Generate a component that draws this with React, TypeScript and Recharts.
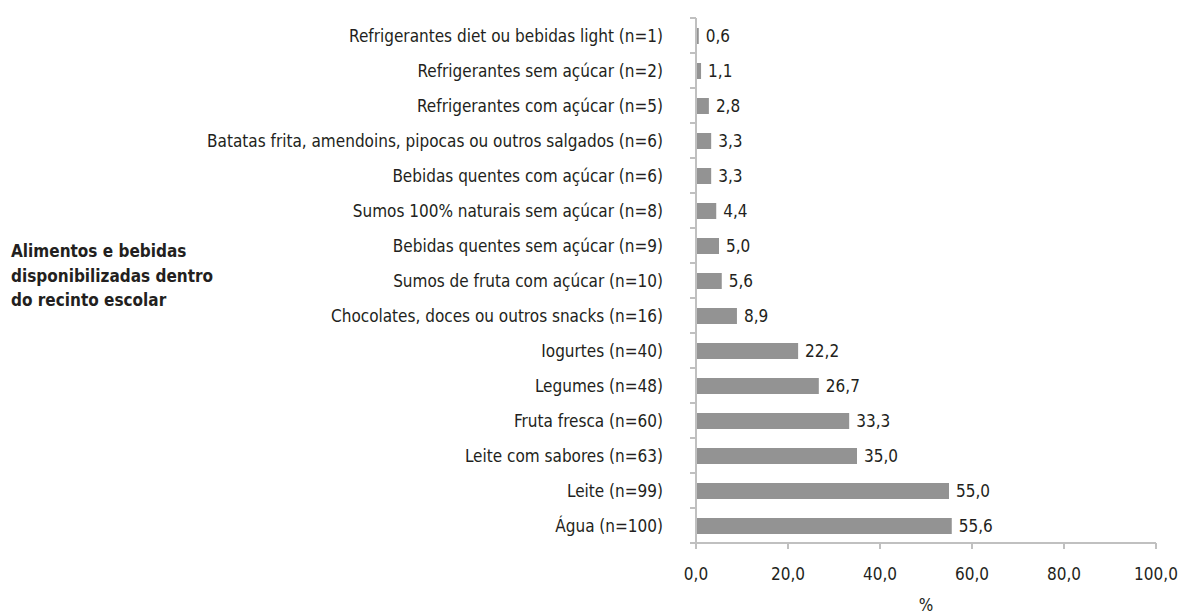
import * as React from 'react';
import { BarChart, Bar, XAxis, YAxis, LabelList } from 'recharts';

const categories = [
  'Refrigerantes diet ou bebidas light (n=1)',
  'Refrigerantes sem açúcar (n=2)',
  'Refrigerantes com açúcar (n=5)',
  'Batatas frita, amendoins, pipocas ou outros salgados (n=6)',
  'Bebidas quentes com açúcar (n=6)',
  'Sumos 100% naturais sem açúcar (n=8)',
  'Bebidas quentes sem açúcar (n=9)',
  'Sumos de fruta com açúcar (n=10)',
  'Chocolates, doces ou outros snacks (n=16)',
  'Iogurtes (n=40)',
  'Legumes (n=48)',
  'Fruta fresca (n=60)',
  'Leite com sabores (n=63)',
  'Leite (n=99)',
  'Água (n=100)',
];

const percentages = [0.6, 1.1, 2.8, 3.3, 3.3, 4.4, 5.0, 5.6, 8.9, 22.2, 26.7, 33.3, 35.0, 55.0, 55.6];

const xTicks = [0, 20, 40, 60, 80, 100];

const titleLines = ['Alimentos e bebidas', 'disponibilizadas dentro', 'do recinto escolar'];

const FONT = '"Liberation Sans Narrow", "DejaVu Sans Condensed", "Roboto Condensed", Arial, sans-serif';
const AXIS = '#c0c0c0';
const TEXT = '#231f20';
const BAR = '#939393';

const fmt = (v: any) => Number(v).toFixed(1).replace('.', ',');

// label centred on the band, tick marks on the band edges (Excel style)
const CategoryTick = (props: any) => {
  const { x, y, payload, index } = props;
  const half = payload?.offset ?? 0;
  return (
    <g>
      <text
        x={x - 33}
        y={y}
        textAnchor="end"
        dominantBaseline="central"
        fontSize={17}
        fill={TEXT}
        fontFamily={FONT}
      >
        {payload.value}
      </text>
      {index === 0 && (
        <line x1={x - 6} x2={x} y1={y - half} y2={y - half} stroke={AXIS} strokeWidth={2} />
      )}
      <line x1={x - 6} x2={x} y1={y + half} y2={y + half} stroke={AXIS} strokeWidth={2} />
    </g>
  );
};

export default function App() {
  const data = categories.map((name, i) => ({ name, value: percentages[i] }));

  return (
    <div style={{ position: 'absolute', left: 0, top: 0, width: 1184, height: 615, background: '#fff' }}>
      <BarChart
        width={1184}
        height={615}
        data={data}
        layout="vertical"
        margin={{ top: 18, right: 28, bottom: 0, left: 496 }}
      >
        <XAxis
          type="number"
          domain={[0, 100]}
          ticks={xTicks}
          tickFormatter={fmt}
          height={72}
          stroke={AXIS}
          strokeWidth={2}
          tickSize={6}
          tickMargin={19}
          tick={{ fill: TEXT, fontSize: 17, fontFamily: FONT }}
          label={{ value: '%', position: 'insideBottom', offset: 4, fill: TEXT, fontSize: 17, fontFamily: FONT }}
        />
        <YAxis
          type="category"
          dataKey="name"
          width={200}
          stroke={AXIS}
          strokeWidth={2}
          tickLine={false}
          tickSize={0}
          tickMargin={0}
          interval={0}
          tick={<CategoryTick />}
        />
        <Bar dataKey="value" fill={BAR} barSize={16} isAnimationActive={false}>
          <LabelList
            dataKey="value"
            position="right"
            offset={7}
            formatter={fmt}
            fill={TEXT}
            fontSize={17}
            fontFamily={FONT}
          />
        </Bar>
        {titleLines.map((line, i) => (
          <text
            key={line}
            x={11}
            y={257 + i * 24.5}
            fontSize={17}
            fontWeight={700}
            fill={TEXT}
            fontFamily={FONT}
          >
            {line}
          </text>
        ))}
      </BarChart>
    </div>
  );
}
